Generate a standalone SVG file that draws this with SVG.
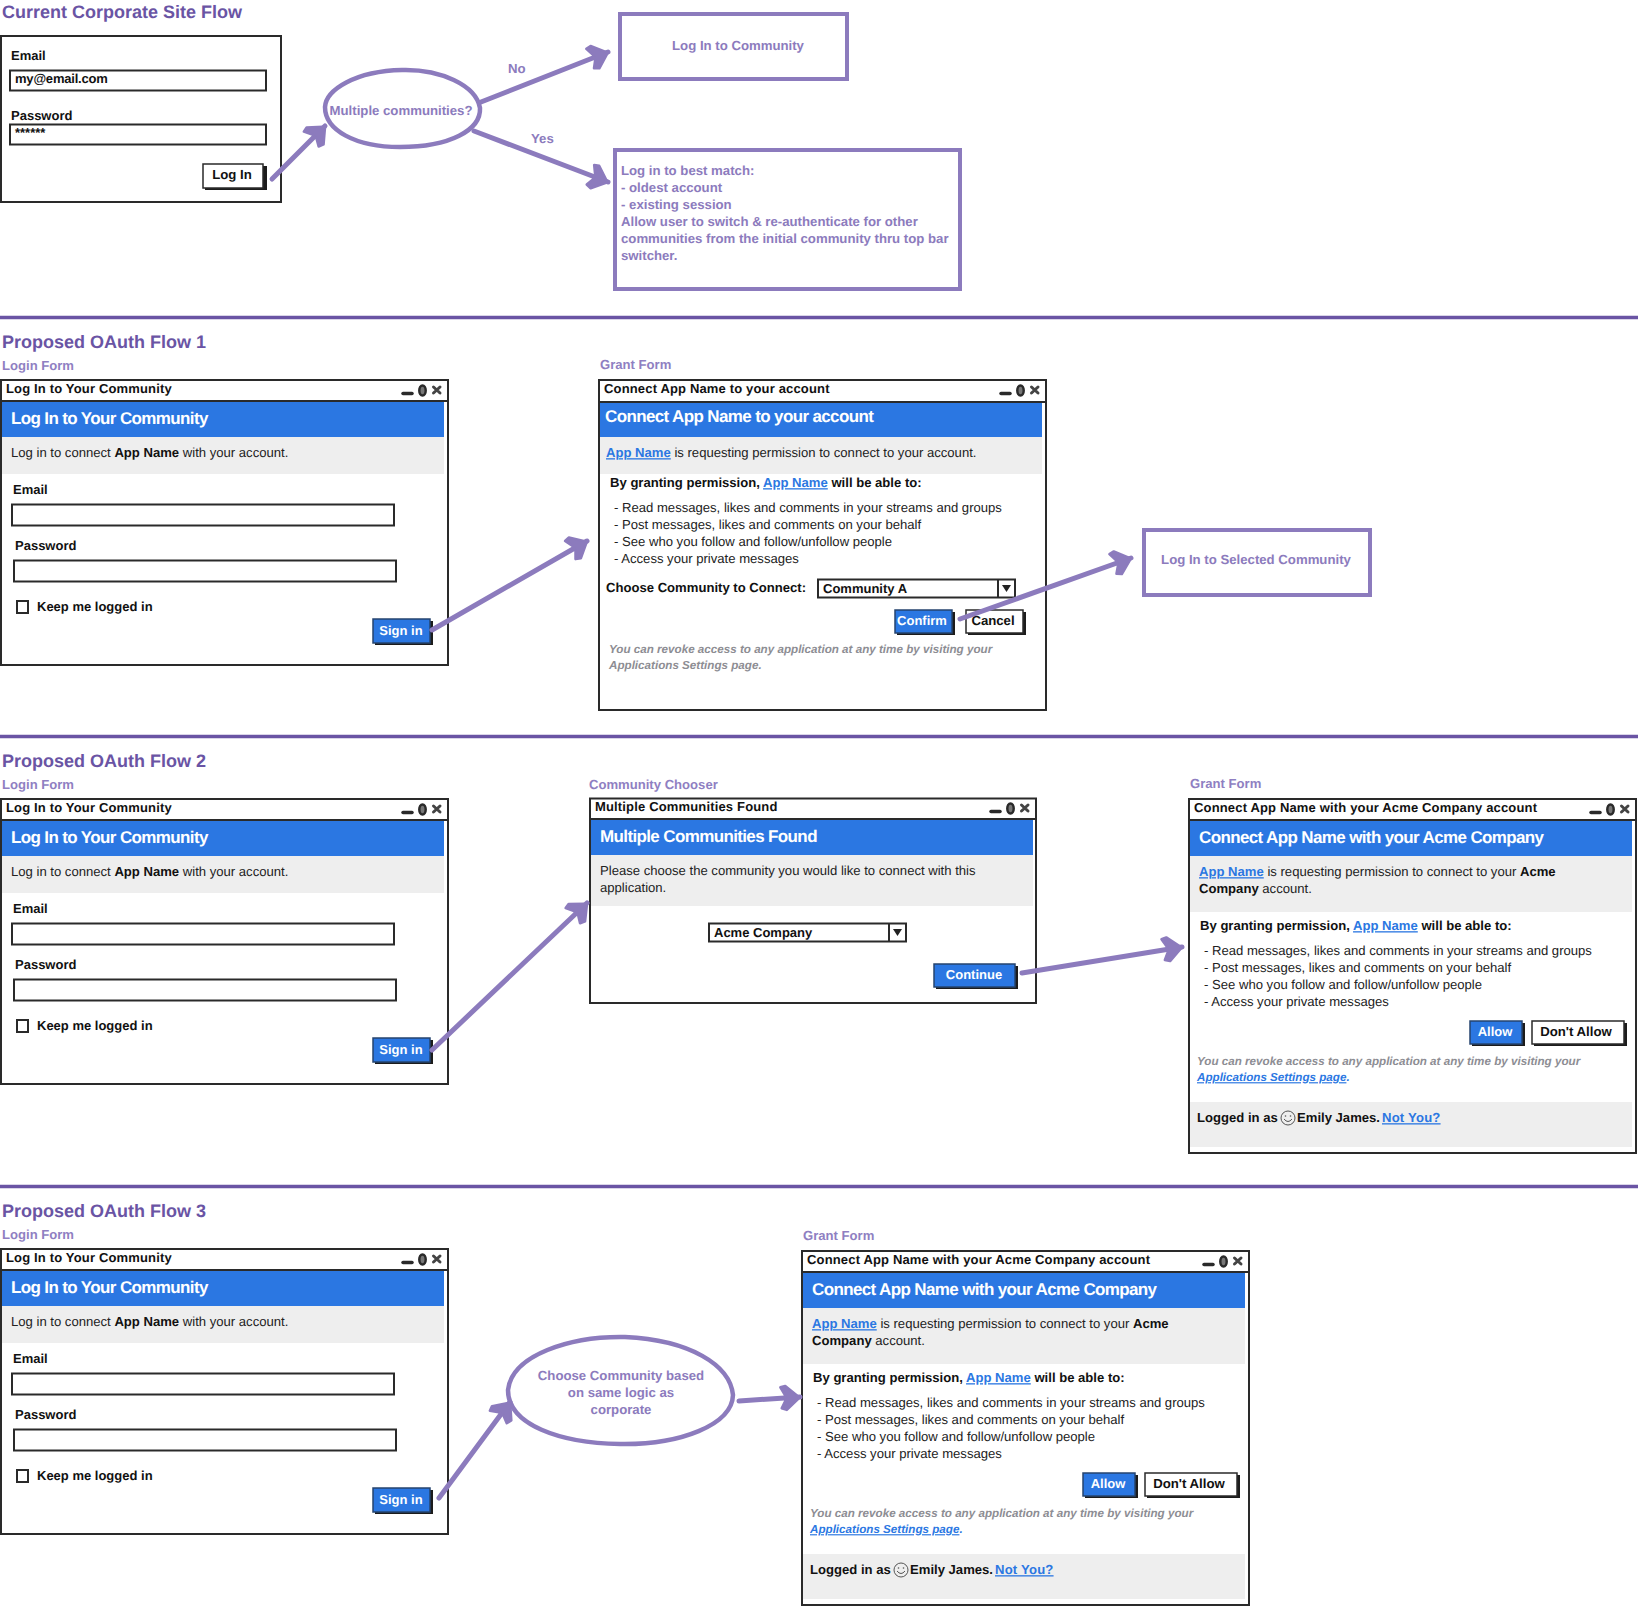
<svg xmlns="http://www.w3.org/2000/svg" xmlns:xlink="http://www.w3.org/1999/xlink" width="1638" height="1607" viewBox="0 0 1638 1607">
<style>
text{font-family:"Liberation Sans",Arial,sans-serif;text-rendering:geometricPrecision;transform:translateY(-.8px)}
.h1{font-size:18px;font-weight:700;fill:#6a54a4}
.lab{font-size:13.1px;font-weight:700;fill:#8f7fc2}
.ti{font-size:13px;font-weight:700;fill:#111;letter-spacing:.16px}
.hd{font-size:17px;font-weight:700;fill:#fff;letter-spacing:-.63px}
.b{font-size:13.1px;fill:#222}
.bb{font-weight:700;fill:#111}
.f{font-size:13px;font-weight:700;fill:#111}
.lk{font-weight:700;fill:#2b77e2;text-decoration:underline}
.nt{font-size:11.65px;font-weight:700;font-style:italic;fill:#8d8d93}
.p{font-size:13.2px;font-weight:700;fill:#8c7bbd}
.pc{font-size:13.2px;font-weight:700;fill:#8c7bbd;text-anchor:middle}
.bt{font-size:13.2px;font-weight:700;fill:#111;text-anchor:middle}
.bw{font-size:13px;font-weight:700;fill:#fff;text-anchor:middle}
.w{fill:#fff;stroke:#2a2a2a;stroke-width:2}
.w0{fill:none;stroke:#2a2a2a;stroke-width:2}
.in{fill:#fff;stroke:#2a2a2a;stroke-width:2}
.blue{fill:#2b77e2}
.gr{fill:#eeeeee}
.sh{fill:#1c1c1c}
.bu{fill:#2b77e2;stroke:#26446f;stroke-width:1.5}
.bg{fill:#fff;stroke:#2a2a2a;stroke-width:1.5}
.pb{fill:#fff;stroke:#8c7bbd;stroke-width:4}
.sep{stroke:#6a54a4;stroke-width:3.5;fill:none}
.cn{fill:none;stroke:#8c7bbd;stroke-width:5;stroke-linecap:round;marker-end:url(#ah)}
.el{fill:#fff;stroke:#8c7bbd;stroke-width:4.5}
</style>
<defs>
<marker id="ah" markerUnits="userSpaceOnUse" viewBox="-24 -16 28 32" markerWidth="28" markerHeight="32" refX="2" refY="0" orient="auto">
<path d="M-17,-11 L-12,-12 L0,-1 L1,1 L-12,12 L-17,10 L-13,3 L-13,-3 Z" fill="#8c7bbd" stroke="#8c7bbd" stroke-width="2.5" stroke-linejoin="round"/>
</marker>
<g id="ctrl">
<path d="M-45,13.5 H-36" stroke="#2a2a2a" stroke-width="3.5" stroke-linecap="round" fill="none"/>
<ellipse cx="-25.5" cy="10.5" rx="3.2" ry="5" fill="#777" stroke="#2a2a2a" stroke-width="2.5"/>
<path d="M-14.5,7 L-8,13 M-8,7 L-14.5,13" stroke="#444" stroke-width="3" stroke-linecap="round" fill="none"/>
</g>
</defs>
<rect width="1638" height="1607" fill="#fff"/>

<g id="section-lines">
<path class="sep" d="M0,317.5 H1638"/>
<path class="sep" d="M0,736.5 H1638"/>
<path class="sep" d="M0,1186.5 H1638"/>
</g>

<g id="headings">
<text class="h1" x="2" y="19">Current Corporate Site Flow</text>
<text class="h1" x="2" y="349">Proposed OAuth Flow 1</text>
<text class="h1" x="2" y="768">Proposed OAuth Flow 2</text>
<text class="h1" x="2" y="1218">Proposed OAuth Flow 3</text>
</g>

<g id="corporate-login">
<rect class="w" x="1" y="36" width="280" height="166"/>
<text class="f" x="11" y="61">Email</text>
<rect class="in" x="10" y="70.5" width="256" height="20"/>
<text class="f" x="15" y="84" letter-spacing="-.2">my@email.com</text>
<text class="f" x="11" y="121">Password</text>
<rect class="in" x="10" y="124.5" width="256" height="20"/>
<text class="f" x="15" y="138">******</text>
<rect class="sh" x="205" y="166" width="62" height="24"/>
<rect class="bg" x="203" y="164" width="60" height="24"/>
<text class="bt" x="232" y="180">Log In</text>
</g>

<g id="multiple-communities">
<path class="el" d="M325,107 C326,90 355,71 402,70 C440,69 476,85 480,108 C481,130 450,147 400,147 C355,147 325,130 325,107Z"/>
<text class="pc" x="401" y="116">Multiple communities?</text>
</g>

<g id="log-in-community">
<rect class="pb" x="620" y="14" width="227" height="65"/>
<text class="pc" x="738" y="51">Log In to Community</text>
</g>

<g id="best-match">
<rect class="pb" x="615" y="150" width="345" height="139"/>
<text class="p" x="621" y="176">Log in to best match:</text>
<text class="p" x="621" y="193">- oldest account</text>
<text class="p" x="621" y="210">- existing session</text>
<text class="p" x="621" y="227">Allow user to switch &amp; re-authenticate for other</text>
<text class="p" x="621" y="244">communities from the initial community thru top bar</text>
<text class="p" x="621" y="261">switcher.</text>
</g>

<g id="edge-labels">
<text class="p" x="508" y="74">No</text>
<text class="p" x="531" y="144">Yes</text>
</g>

<g id="flow1-login">
<text class="lab" x="2" y="371">Login Form</text>
<rect class="w" x="1" y="380" width="447" height="285"/>
<rect class="blue" x="2" y="401" width="442" height="36"/>
<rect class="gr" x="2" y="437" width="442" height="37"/>
<path class="w0" d="M1,401 H448"/>
<text class="ti" x="6" y="394">Log In to Your Community</text>
<use xlink:href="#ctrl" href="#ctrl" x="448" y="380"/>
<text class="hd" x="11" y="425">Log In to Your Community</text>
<text class="b" x="11" y="458">Log in to connect <tspan class="bb">App Name</tspan> with your account.</text>
<text class="f" x="13" y="495">Email</text>
<rect class="in" x="12" y="504.5" width="382" height="21"/>
<text class="f" x="15" y="551">Password</text>
<rect class="in" x="14" y="560.5" width="382" height="21"/>
<rect class="in" x="17" y="601" width="11" height="12" stroke-width="1.5"/>
<text class="f" x="37" y="612">Keep me logged in</text>
<rect class="sh" x="375" y="621" width="58" height="24"/>
<rect class="bu" x="373" y="619" width="57" height="24"/>
<text class="bw" x="401" y="636">Sign in</text>
</g>

<g id="flow1-grant">
<text class="lab" x="600" y="370">Grant Form</text>
<rect class="w" x="599" y="380" width="447" height="330"/>
<rect class="blue" x="600" y="402" width="442" height="35"/>
<rect class="gr" x="600" y="437" width="442" height="37"/>
<path class="w0" d="M599,402 H1046"/>
<text class="ti" x="604" y="394">Connect App Name to your account</text>
<use xlink:href="#ctrl" href="#ctrl" x="1046" y="380"/>
<text class="hd" x="605" y="423">Connect App Name to your account</text>
<text class="b" x="606" y="458"><tspan class="lk">App Name</tspan> is requesting permission to connect to your account.</text>
<text class="b bb" x="610" y="488">By granting permission, <tspan class="lk">App Name</tspan> will be able to:</text>
<text class="b" x="614" y="513">- Read messages, likes and comments in your streams and groups</text>
<text class="b" x="614" y="530">- Post messages, likes and comments on your behalf</text>
<text class="b" x="614" y="547">- See who you follow and follow/unfollow people</text>
<text class="b" x="614" y="564">- Access your private messages</text>
<text class="b bb" x="606" y="593">Choose Community to Connect:</text>
<rect class="in" x="818" y="579.5" width="197" height="18"/>
<path class="w0" d="M998,579.5 V597.5"/>
<path d="M1002,585 H1011 L1006.5,592 Z" fill="#222"/>
<text class="f" x="823" y="594">Community A</text>
<rect class="sh" x="897" y="612" width="58" height="23"/>
<rect class="bu" x="895" y="610" width="57" height="23"/>
<text class="bw" x="922" y="626">Confirm</text>
<rect class="sh" x="968" y="612" width="58" height="23"/>
<rect class="bg" x="966" y="610" width="57" height="23"/>
<text class="bt" x="993" y="626">Cancel</text>
<text class="nt" x="609" y="654">You can revoke access to any application at any time by visiting your</text>
<text class="nt" x="609" y="670">Applications Settings page.</text>
</g>

<g id="selected-community">
<rect class="pb" x="1144" y="530" width="226" height="65"/>
<text class="pc" x="1256" y="565">Log In to Selected Community</text>
</g>

<g id="flow2-login" transform="translate(0,419)">
<text class="lab" x="2" y="371">Login Form</text>
<rect class="w" x="1" y="380" width="447" height="285"/>
<rect class="blue" x="2" y="401" width="442" height="36"/>
<rect class="gr" x="2" y="437" width="442" height="37"/>
<path class="w0" d="M1,401 H448"/>
<text class="ti" x="6" y="394">Log In to Your Community</text>
<use xlink:href="#ctrl" href="#ctrl" x="448" y="380"/>
<text class="hd" x="11" y="425">Log In to Your Community</text>
<text class="b" x="11" y="458">Log in to connect <tspan class="bb">App Name</tspan> with your account.</text>
<text class="f" x="13" y="495">Email</text>
<rect class="in" x="12" y="504.5" width="382" height="21"/>
<text class="f" x="15" y="551">Password</text>
<rect class="in" x="14" y="560.5" width="382" height="21"/>
<rect class="in" x="17" y="601" width="11" height="12" stroke-width="1.5"/>
<text class="f" x="37" y="612">Keep me logged in</text>
<rect class="sh" x="375" y="621" width="58" height="24"/>
<rect class="bu" x="373" y="619" width="57" height="24"/>
<text class="bw" x="401" y="636">Sign in</text>
</g>

<g id="flow2-chooser">
<text class="lab" x="589" y="790">Community Chooser</text>
<rect class="w" x="590" y="798.5" width="446" height="204.5"/>
<rect class="blue" x="591" y="819" width="442" height="36"/>
<rect class="gr" x="591" y="855" width="442" height="51"/>
<path class="w0" d="M590,819 H1036"/>
<text class="ti" x="595" y="812">Multiple Communities Found</text>
<use xlink:href="#ctrl" href="#ctrl" x="1036" y="798"/>
<text class="hd" x="600" y="843">Multiple Communities Found</text>
<text class="b" x="600" y="876">Please choose the community you would like to connect with this</text>
<text class="b" x="600" y="892.5">application.</text>
<rect class="in" x="709" y="923.5" width="197" height="18"/>
<path class="w0" d="M889,923.5 V941.5"/>
<path d="M893,929 H902 L897.5,936 Z" fill="#222"/>
<text class="f" x="714" y="938">Acme Company</text>
<rect class="sh" x="936" y="966" width="82" height="23"/>
<rect class="bu" x="934" y="964" width="81" height="23"/>
<text class="bw" x="974" y="980">Continue</text>
</g>

<g id="flow2-grant">
<text class="lab" x="1190" y="789">Grant Form</text>
<rect class="w" x="1189" y="799" width="447" height="354"/>
<rect class="blue" x="1190" y="820" width="442" height="36"/>
<rect class="gr" x="1190" y="856" width="442" height="56"/>
<rect class="gr" x="1190" y="1102" width="442" height="45"/>
<path class="w0" d="M1189,820 H1636"/>
<text class="ti" x="1194" y="813">Connect App Name with your Acme Company account</text>
<use xlink:href="#ctrl" href="#ctrl" x="1636" y="799"/>
<text class="hd" x="1199" y="844">Connect App Name with your Acme Company</text>
<text class="b" x="1199" y="877"><tspan class="lk">App Name</tspan> is requesting permission to connect to your <tspan class="bb">Acme</tspan></text>
<text class="b" x="1199" y="894"><tspan class="bb">Company</tspan> account.</text>
<text class="b bb" x="1200" y="931">By granting permission, <tspan class="lk">App Name</tspan> will be able to:</text>
<text class="b" x="1204" y="956">- Read messages, likes and comments in your streams and groups</text>
<text class="b" x="1204" y="973">- Post messages, likes and comments on your behalf</text>
<text class="b" x="1204" y="990">- See who you follow and follow/unfollow people</text>
<text class="b" x="1204" y="1007">- Access your private messages</text>
<rect class="sh" x="1472" y="1023" width="53" height="23"/>
<rect class="bu" x="1470" y="1021" width="52" height="23"/>
<text class="bw" x="1495" y="1037">Allow</text>
<rect class="sh" x="1534" y="1023" width="93" height="23"/>
<rect class="bg" x="1532" y="1021" width="92" height="23"/>
<text class="bt" x="1576" y="1037">Don't Allow</text>
<text class="nt" x="1197" y="1066">You can revoke access to any application at any time by visiting your</text>
<text class="nt" x="1197" y="1082"><tspan class="lk">Applications Settings page</tspan><tspan fill="#2b77e2">.</tspan></text>
<text class="b bb" x="1197" y="1123">Logged in as</text>
<circle cx="1288" cy="1118" r="7" fill="none" stroke="#555" stroke-width="1"/>
<path d="M1284,1119 Q1288,1124 1292,1119" fill="none" stroke="#555" stroke-width="1"/>
<circle cx="1285.5" cy="1116" r=".8" fill="#555"/><circle cx="1290.5" cy="1116" r=".8" fill="#555"/>
<text class="b bb" x="1297" y="1123">Emily James.</text>
<text class="b lk" x="1382" y="1123" letter-spacing=".2">Not You?</text>
</g>

<g id="flow3-login" transform="translate(0,869)">
<text class="lab" x="2" y="371">Login Form</text>
<rect class="w" x="1" y="380" width="447" height="285"/>
<rect class="blue" x="2" y="401" width="442" height="36"/>
<rect class="gr" x="2" y="437" width="442" height="37"/>
<path class="w0" d="M1,401 H448"/>
<text class="ti" x="6" y="394">Log In to Your Community</text>
<use xlink:href="#ctrl" href="#ctrl" x="448" y="380"/>
<text class="hd" x="11" y="425">Log In to Your Community</text>
<text class="b" x="11" y="458">Log in to connect <tspan class="bb">App Name</tspan> with your account.</text>
<text class="f" x="13" y="495">Email</text>
<rect class="in" x="12" y="504.5" width="382" height="21"/>
<text class="f" x="15" y="551">Password</text>
<rect class="in" x="14" y="560.5" width="382" height="21"/>
<rect class="in" x="17" y="601" width="11" height="12" stroke-width="1.5"/>
<text class="f" x="37" y="612">Keep me logged in</text>
<rect class="sh" x="375" y="621" width="58" height="24"/>
<rect class="bu" x="373" y="619" width="57" height="24"/>
<text class="bw" x="401" y="636">Sign in</text>
</g>

<g id="flow3-choose">
<path class="el" d="M508,1390 C512,1355 570,1336 625,1337 C690,1340 730,1365 733,1395 C732,1425 680,1445 620,1444 C560,1443 508,1425 508,1390Z"/>
<text class="pc" x="621" y="1381">Choose Community based</text>
<text class="pc" x="621" y="1398">on same logic as</text>
<text class="pc" x="621" y="1415">corporate</text>
</g>

<g id="flow3-grant" transform="translate(-387,452)">
<text class="lab" x="1190" y="789">Grant Form</text>
<rect class="w" x="1189" y="799" width="447" height="354"/>
<rect class="blue" x="1190" y="820" width="442" height="36"/>
<rect class="gr" x="1190" y="856" width="442" height="56"/>
<rect class="gr" x="1190" y="1102" width="442" height="45"/>
<path class="w0" d="M1189,820 H1636"/>
<text class="ti" x="1194" y="813">Connect App Name with your Acme Company account</text>
<use xlink:href="#ctrl" href="#ctrl" x="1636" y="799"/>
<text class="hd" x="1199" y="844">Connect App Name with your Acme Company</text>
<text class="b" x="1199" y="877"><tspan class="lk">App Name</tspan> is requesting permission to connect to your <tspan class="bb">Acme</tspan></text>
<text class="b" x="1199" y="894"><tspan class="bb">Company</tspan> account.</text>
<text class="b bb" x="1200" y="931">By granting permission, <tspan class="lk">App Name</tspan> will be able to:</text>
<text class="b" x="1204" y="956">- Read messages, likes and comments in your streams and groups</text>
<text class="b" x="1204" y="973">- Post messages, likes and comments on your behalf</text>
<text class="b" x="1204" y="990">- See who you follow and follow/unfollow people</text>
<text class="b" x="1204" y="1007">- Access your private messages</text>
<rect class="sh" x="1472" y="1023" width="53" height="23"/>
<rect class="bu" x="1470" y="1021" width="52" height="23"/>
<text class="bw" x="1495" y="1037">Allow</text>
<rect class="sh" x="1534" y="1023" width="93" height="23"/>
<rect class="bg" x="1532" y="1021" width="92" height="23"/>
<text class="bt" x="1576" y="1037">Don't Allow</text>
<text class="nt" x="1197" y="1066">You can revoke access to any application at any time by visiting your</text>
<text class="nt" x="1197" y="1082"><tspan class="lk">Applications Settings page</tspan><tspan fill="#2b77e2">.</tspan></text>
<text class="b bb" x="1197" y="1123">Logged in as</text>
<circle cx="1288" cy="1118" r="7" fill="none" stroke="#555" stroke-width="1"/>
<path d="M1284,1119 Q1288,1124 1292,1119" fill="none" stroke="#555" stroke-width="1"/>
<circle cx="1285.5" cy="1116" r=".8" fill="#555"/><circle cx="1290.5" cy="1116" r=".8" fill="#555"/>
<text class="b bb" x="1297" y="1123">Emily James.</text>
<text class="b lk" x="1382" y="1123" letter-spacing=".2">Not You?</text>
</g>

<g id="connectors">
<path class="cn" d="M272,179 L325,126"/>
<path class="cn" d="M481,102 L608,52"/>
<path class="cn" d="M474,131 L608,182"/>
<path class="cn" d="M432,630 L587,541"/>
<path class="cn" d="M960,619 L1131,558"/>
<path class="cn" d="M432,1050 L587,903"/>
<path class="cn" d="M1022,973 L1182,947"/>
<path class="cn" d="M439,1498 L510,1402"/>
<path class="cn" d="M739,1401 L800,1397"/>
</g>
</svg>
